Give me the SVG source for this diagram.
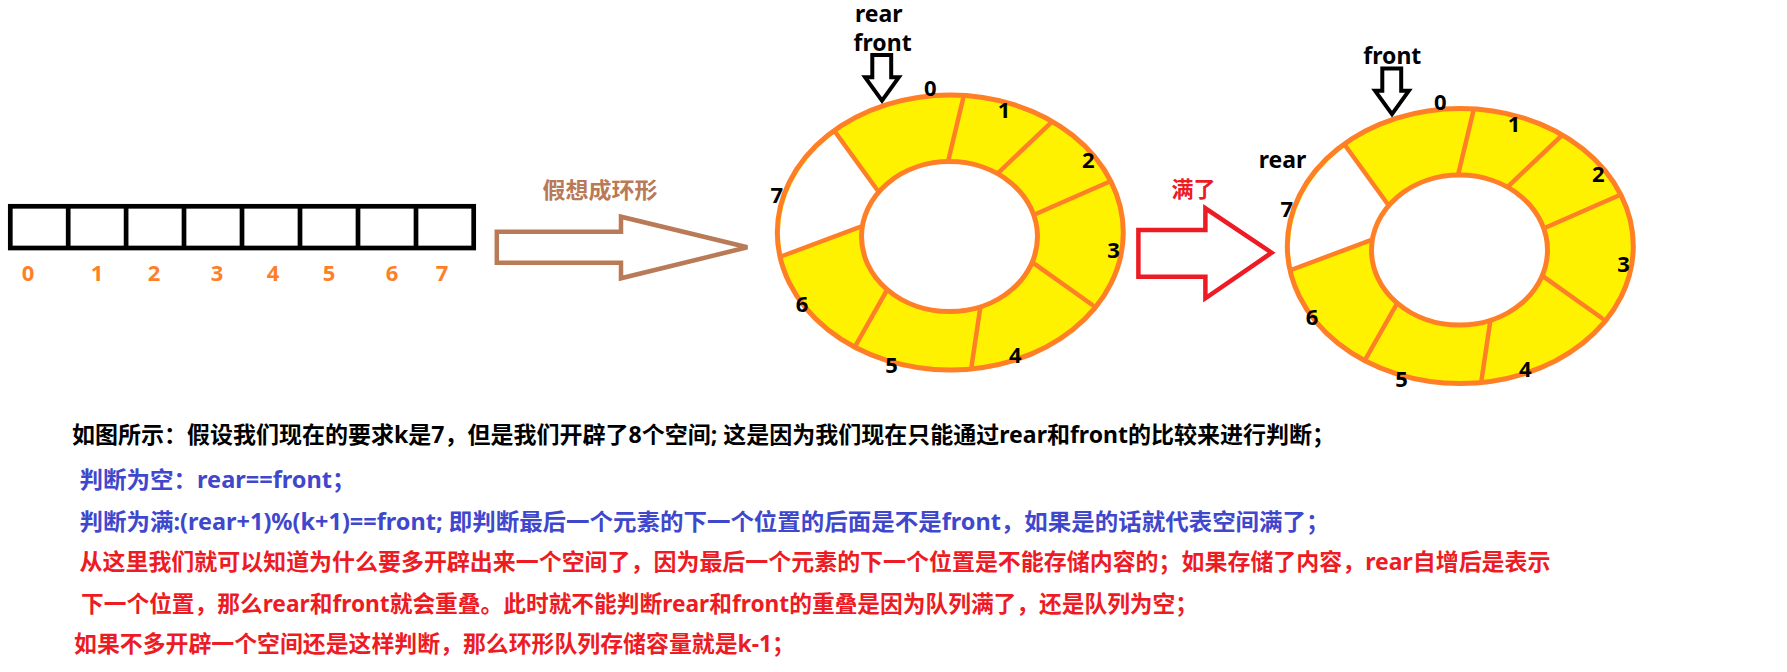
<svg xmlns="http://www.w3.org/2000/svg" width="1787" height="672" viewBox="0 0 1787 672">
<style>
  text { font-family: 'Noto Sans', 'Noto Sans CJK SC', sans-serif; font-weight: bold; }
  .idx { font-size: 22px; fill: #FF7F27; text-anchor: middle; }
  .rl { font-size: 22px; fill: #000; text-anchor: middle; }
  .ptr { font-size: 23px; fill: #000; text-anchor: middle; }
  .line { font-size: 23px; }
  .blk { fill: #000; }
  .blue { fill: #3F48CC; }
  .red { fill: #ED1C24; }
  .cell { fill: none; stroke: #000; stroke-width: 4.7; }
  .ring { stroke: #FF7F27; stroke-width: 5; }
  .div { stroke: #FF7F27; stroke-width: 4.5; stroke-linecap: round; }
</style>
<defs>
  <g id="ringShape">
    <ellipse cx="950.3" cy="232.5" rx="173" ry="137.5" fill="#FFF200"/>
    <path d="M 835.7,132.7 A 173 137.5 0 0 0 782.2,256 L 860.9,226.7 A 88 75 0 0 1 877.8,190.7 Z" fill="#FFFFFF"/>
    <g class="div">
      <line x1="835.7" y1="132.7" x2="877.8" y2="190.7"/>
      <line x1="963.2" y1="98.3" x2="948" y2="161.7"/>
      <line x1="1050.3" y1="123.3" x2="997.7" y2="173.3"/>
      <line x1="1109.3" y1="181.7" x2="1033.5" y2="215"/>
      <line x1="1092.4" y1="305" x2="1031.4" y2="261.7"/>
      <line x1="971.6" y1="366" x2="980.9" y2="303.3"/>
      <line x1="855.9" y1="345" x2="887.4" y2="289.3"/>
      <line x1="782.2" y1="256" x2="860.9" y2="226.7"/>
    </g>
    <ellipse class="ring" cx="949.5" cy="236.6" rx="88" ry="75" fill="#FFFFFF"/>
    <ellipse class="ring" cx="950.3" cy="232.5" rx="173" ry="137.5" fill="none"/>
    <text class="rl" x="930.4" y="96">0</text>
    <text class="rl" x="1004" y="118.3">1</text>
    <text class="rl" x="1088.2" y="168.3">2</text>
    <text class="rl" x="1113.5" y="258.3">3</text>
    <text class="rl" x="1015.4" y="363.3">4</text>
    <text class="rl" x="891.6" y="373.3">5</text>
    <text class="rl" x="802" y="311.7">6</text>
    <text class="rl" x="776.7" y="203.3">7</text>
  </g>
</defs>

<g id="array">
  <rect class="cell" x="10.3" y="206.3" width="463.4" height="41.7"/>
  <g stroke="#000" stroke-width="4.7">
    <line x1="68.2" y1="206.3" x2="68.2" y2="248"/>
    <line x1="126.1" y1="206.3" x2="126.1" y2="248"/>
    <line x1="184" y1="206.3" x2="184" y2="248"/>
    <line x1="242" y1="206.3" x2="242" y2="248"/>
    <line x1="300" y1="206.3" x2="300" y2="248"/>
    <line x1="358" y1="206.3" x2="358" y2="248"/>
    <line x1="416" y1="206.3" x2="416" y2="248"/>
  </g>
  <text class="idx" x="28" y="280.5">0</text>
  <text class="idx" x="97" y="280.5">1</text>
  <text class="idx" x="154" y="280.5">2</text>
  <text class="idx" x="217" y="280.5">3</text>
  <text class="idx" x="273" y="280.5">4</text>
  <text class="idx" x="329" y="280.5">5</text>
  <text class="idx" x="392" y="280.5">6</text>
  <text class="idx" x="442" y="280.5">7</text>
</g>

<g id="ring-empty">
  <use href="#ringShape"/>
  <text class="ptr" x="878.8" y="21.7">rear</text>
  <text class="ptr" x="882.6" y="50.5">front</text>
</g>

<g id="ring-full">
  <use href="#ringShape" transform="translate(510,13.5)"/>
  <text class="ptr" x="1392.3" y="64">front</text>
  <text class="ptr" x="1282.5" y="168">rear</text>
</g>

<g id="connectors" fill="none" stroke-linejoin="miter">
  <polygon points="496.8,231.7 621,231.7 621,216.7 747.3,247.3 621,278.3 621,262.7 496.8,262.7" stroke="#B97A57" stroke-width="4.5"/>
  <polygon points="1138.4,230 1205.4,230 1205.4,208.3 1271.6,252.7 1205.4,298.3 1205.4,276.7 1138.4,276.7" stroke="#ED1C24" stroke-width="4.5"/>
  <polygon points="872.3,55 891.2,55 891.2,77.3 898.8,77.3 882,100.7 865.1,77.3 872.3,77.3" stroke="#000" stroke-width="4"/>
  <polygon points="1382.3,68.5 1401.2,68.5 1401.2,90.8 1408.8,90.8 1392,114.2 1375.1,90.8 1382.3,90.8" stroke="#000" stroke-width="4"/>
</g>

<g id="label-imagine">
  <text x="542.5" y="198" font-size="22" fill="#B97A57" textLength="115" lengthAdjust="spacingAndGlyphs">假想成环形</text>
</g>
<g id="label-full">
  <text x="1171.5" y="196.5" font-size="22" fill="#ED1C24" textLength="44" lengthAdjust="spacingAndGlyphs">满了</text>
</g>

<g id="notes">
  <text class="line blk" x="72" y="443.3" textLength="1263" lengthAdjust="spacingAndGlyphs">如图所示：假设我们现在的要求k是7，但是我们开辟了8个空间; 这是因为我们现在只能通过rear和front的比较来进行判断；</text>
  <text class="line blue" x="79.5" y="488.3" textLength="276" lengthAdjust="spacingAndGlyphs">判断为空：rear==front；</text>
  <text class="line blue" x="79.5" y="530" textLength="1250" lengthAdjust="spacingAndGlyphs">判断为满:(rear+1)%(k+1)==front; 即判断最后一个元素的下一个位置的后面是不是front，如果是的话就代表空间满了；</text>
  <text class="line red" x="79.5" y="570" textLength="1471" lengthAdjust="spacingAndGlyphs">从这里我们就可以知道为什么要多开辟出来一个空间了，因为最后一个元素的下一个位置是不能存储内容的；如果存储了内容，rear自增后是表示</text>
  <text class="line red" x="81" y="611.6" textLength="1117" lengthAdjust="spacingAndGlyphs">下一个位置，那么rear和front就会重叠。此时就不能判断rear和front的重叠是因为队列满了，还是队列为空；</text>
  <text class="line red" x="74" y="651.6" textLength="721" lengthAdjust="spacingAndGlyphs">如果不多开辟一个空间还是这样判断，那么环形队列存储容量就是k-1；</text>
</g>
</svg>
